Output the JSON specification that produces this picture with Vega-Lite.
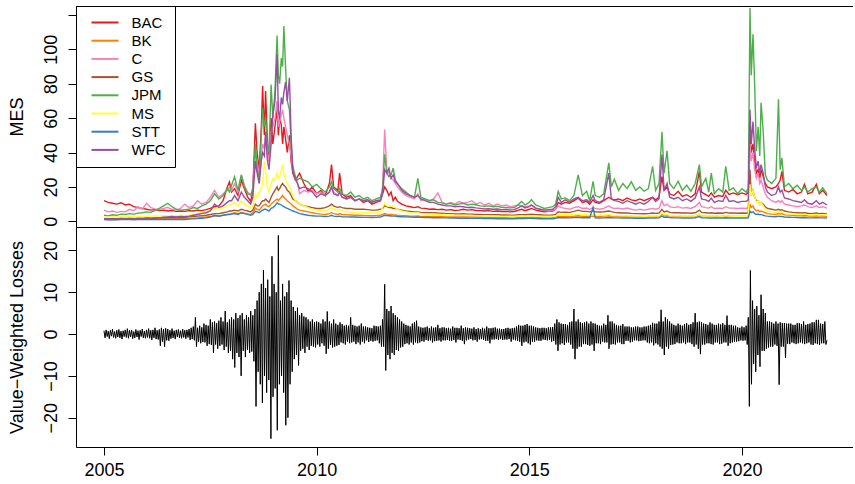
{
"$schema": "https://vega.github.io/schema/vega-lite/v6.json",
"background": "white",
"padding": {"left": 8, "top": 5, "right": 0, "bottom": 0},
"spacing": 0,
"config": {
  "font": "Liberation Sans",
  "view": {"stroke": null},
  "axis": {"grid": false, "domainColor": "black", "tickColor": "black", "labelColor": "black", "titleColor": "black", "labelFont": "Liberation Sans", "titleFont": "Liberation Sans", "labelFontSize": 18, "titleFontSize": 18, "titleFontWeight": "normal", "domainWidth": 1, "tickWidth": 1},
  "legend": {"labelFont": "Liberation Sans", "labelColor": "black"}
},
"datasets": {
"mes": [
{"t":2005.0,"BAC":12,"BK":1.2,"C":6.5,"GS":1.5,"JPM":3.5,"MS":2.5,"STT":1.0,"WFC":1.5},
{"t":2005.1,"BAC":11,"BK":1.1,"C":5.5,"GS":1.4,"JPM":3.2,"MS":2.4,"STT":0.9,"WFC":1.4},
{"t":2005.2,"BAC":10.5,"BK":1.2,"C":6,"GS":1.6,"JPM":3.8,"MS":2.6,"STT":1.0,"WFC":1.5},
{"t":2005.3,"BAC":10,"BK":1.1,"C":5.2,"GS":1.5,"JPM":3.5,"MS":2.5,"STT":0.9,"WFC":1.4},
{"t":2005.4,"BAC":10.8,"BK":1.3,"C":5.8,"GS":1.7,"JPM":4.2,"MS":2.7,"STT":1.1,"WFC":1.6},
{"t":2005.5,"BAC":9.5,"BK":1.2,"C":5.5,"GS":1.6,"JPM":4.0,"MS":2.5,"STT":1.0,"WFC":1.5},
{"t":2005.6,"BAC":10,"BK":1.3,"C":7,"GS":1.7,"JPM":4.5,"MS":2.8,"STT":1.0,"WFC":1.6},
{"t":2005.7,"BAC":8.5,"BK":1.2,"C":6.2,"GS":1.6,"JPM":4.2,"MS":2.6,"STT":0.9,"WFC":1.5},
{"t":2005.8,"BAC":8,"BK":1.4,"C":8.5,"GS":1.8,"JPM":4.8,"MS":2.9,"STT":1.1,"WFC":1.7},
{"t":2005.9,"BAC":7.5,"BK":1.3,"C":7,"GS":1.7,"JPM":5,"MS":2.8,"STT":1.0,"WFC":1.6},
{"t":2006.0,"BAC":7,"BK":1.4,"C":10.5,"GS":1.9,"JPM":5.5,"MS":3,"STT":1.1,"WFC":1.8},
{"t":2006.1,"BAC":6.5,"BK":1.3,"C":8,"GS":1.8,"JPM":5.2,"MS":2.9,"STT":1.0,"WFC":1.7},
{"t":2006.2,"BAC":6.8,"BK":1.5,"C":7.2,"GS":2.0,"JPM":6.2,"MS":3.1,"STT":1.1,"WFC":1.9},
{"t":2006.3,"BAC":6.2,"BK":1.4,"C":6.8,"GS":2.1,"JPM":7.5,"MS":3.0,"STT":1.0,"WFC":2.0},
{"t":2006.4,"BAC":6.5,"BK":1.6,"C":7.5,"GS":2.3,"JPM":9,"MS":3.3,"STT":1.2,"WFC":2.4},
{"t":2006.5,"BAC":6,"BK":1.5,"C":8,"GS":2.2,"JPM":10.5,"MS":3.2,"STT":1.1,"WFC":2.6},
{"t":2006.6,"BAC":6.3,"BK":1.6,"C":7,"GS":2.4,"JPM":8.5,"MS":3.4,"STT":1.2,"WFC":2.8},
{"t":2006.7,"BAC":5.8,"BK":1.5,"C":6.5,"GS":2.3,"JPM":7,"MS":3.3,"STT":1.1,"WFC":2.6},
{"t":2006.8,"BAC":6,"BK":1.6,"C":7.5,"GS":2.5,"JPM":6.5,"MS":3.5,"STT":1.2,"WFC":2.8},
{"t":2006.9,"BAC":5.8,"BK":1.5,"C":10,"GS":2.4,"JPM":6.8,"MS":3.4,"STT":1.1,"WFC":2.7},
{"t":2007.0,"BAC":6.2,"BK":1.7,"C":8,"GS":2.6,"JPM":7,"MS":3.6,"STT":1.3,"WFC":3.0},
{"t":2007.1,"BAC":6,"BK":1.8,"C":9,"GS":2.8,"JPM":8,"MS":4,"STT":1.4,"WFC":3.5},
{"t":2007.2,"BAC":6.5,"BK":2.0,"C":12,"GS":3.0,"JPM":7.5,"MS":4.5,"STT":1.6,"WFC":4.0},
{"t":2007.3,"BAC":6.2,"BK":2.2,"C":10,"GS":3.2,"JPM":9,"MS":5,"STT":1.8,"WFC":4.5},
{"t":2007.4,"BAC":6.8,"BK":2.5,"C":11,"GS":3.5,"JPM":10,"MS":5.5,"STT":2.0,"WFC":5},
{"t":2007.5,"BAC":7.5,"BK":2.8,"C":14,"GS":4,"JPM":12,"MS":6.5,"STT":2.5,"WFC":6},
{"t":2007.6,"BAC":8.5,"BK":3.0,"C":18,"GS":4.5,"JPM":16,"MS":7.5,"STT":3.5,"WFC":10},
{"t":2007.7,"BAC":9,"BK":3.2,"C":14,"GS":4.5,"JPM":13,"MS":7,"STT":3.0,"WFC":8},
{"t":2007.8,"BAC":12,"BK":3.5,"C":16,"GS":5,"JPM":15,"MS":8,"STT":3.5,"WFC":9},
{"t":2007.9,"BAC":20,"BK":4,"C":18,"GS":5.5,"JPM":19,"MS":9,"STT":4,"WFC":11},
{"t":2007.95,"BAC":23,"BK":4.2,"C":20,"GS":6,"JPM":17,"MS":9.5,"STT":4,"WFC":12},
{"t":2008.0,"BAC":17,"BK":4.5,"C":18,"GS":6,"JPM":21,"MS":10,"STT":4.2,"WFC":12},
{"t":2008.07,"BAC":19,"BK":5,"C":22,"GS":6.5,"JPM":26,"MS":11,"STT":4.5,"WFC":15},
{"t":2008.15,"BAC":15,"BK":4.5,"C":17,"GS":6,"JPM":18,"MS":9,"STT":4,"WFC":12},
{"t":2008.23,"BAC":24,"BK":5.2,"C":27,"GS":7,"JPM":27,"MS":12,"STT":5,"WFC":17},
{"t":2008.3,"BAC":19,"BK":4.8,"C":21,"GS":6.5,"JPM":20,"MS":10,"STT":4.5,"WFC":14},
{"t":2008.38,"BAC":14,"BK":4.3,"C":17,"GS":6,"JPM":16,"MS":9,"STT":4,"WFC":12},
{"t":2008.45,"BAC":11.6,"BK":4,"C":15,"GS":5.5,"JPM":15.5,"MS":8,"STT":3.5,"WFC":10},
{"t":2008.5,"BAC":18,"BK":5,"C":20,"GS":6.5,"JPM":18,"MS":9,"STT":4,"WFC":14},
{"t":2008.56,"BAC":57,"BK":7.7,"C":40,"GS":10,"JPM":45,"MS":16,"STT":5.8,"WFC":35},
{"t":2008.6,"BAC":40,"BK":7,"C":35,"GS":9,"JPM":30,"MS":14,"STT":5.5,"WFC":28},
{"t":2008.65,"BAC":30,"BK":6.5,"C":25,"GS":9,"JPM":25,"MS":17,"STT":5,"WFC":22},
{"t":2008.7,"BAC":55,"BK":8,"C":38,"GS":11,"JPM":50,"MS":19,"STT":6,"WFC":35},
{"t":2008.73,"BAC":78.6,"BK":9,"C":45,"GS":12,"JPM":66,"MS":22,"STT":6.5,"WFC":40},
{"t":2008.77,"BAC":50,"BK":9.5,"C":42,"GS":12,"JPM":55,"MS":35,"STT":7,"WFC":38},
{"t":2008.8,"BAC":75.7,"BK":10,"C":50,"GS":13,"JPM":60,"MS":30,"STT":7,"WFC":52},
{"t":2008.84,"BAC":48,"BK":9,"C":40,"GS":12,"JPM":45,"MS":20,"STT":6.5,"WFC":36},
{"t":2008.88,"BAC":35,"BK":8.5,"C":35,"GS":11,"JPM":40,"MS":17,"STT":6,"WFC":30},
{"t":2008.93,"BAC":60,"BK":10,"C":52,"GS":14,"JPM":79.6,"MS":22,"STT":7.5,"WFC":45},
{"t":2008.97,"BAC":45,"BK":11,"C":55,"GS":16,"JPM":60,"MS":25,"STT":8,"WFC":62},
{"t":2009.02,"BAC":55,"BK":12,"C":60,"GS":18,"JPM":75,"MS":24,"STT":9,"WFC":70},
{"t":2009.07,"BAC":65,"BK":13,"C":70,"GS":20,"JPM":108,"MS":28,"STT":10.7,"WFC":97},
{"t":2009.1,"BAC":50,"BK":12,"C":55,"GS":18,"JPM":85,"MS":25,"STT":10,"WFC":64},
{"t":2009.13,"BAC":60,"BK":13,"C":58,"GS":19,"JPM":80,"MS":26,"STT":10,"WFC":60},
{"t":2009.17,"BAC":56,"BK":14,"C":62,"GS":21,"JPM":95,"MS":30,"STT":9.5,"WFC":72},
{"t":2009.2,"BAC":45,"BK":15,"C":65,"GS":22,"JPM":90,"MS":33,"STT":9,"WFC":68},
{"t":2009.23,"BAC":55,"BK":14,"C":60,"GS":21,"JPM":113.6,"MS":28,"STT":8.5,"WFC":75},
{"t":2009.27,"BAC":48,"BK":13,"C":55,"GS":20,"JPM":89,"MS":24,"STT":8,"WFC":81},
{"t":2009.31,"BAC":40,"BK":12,"C":50,"GS":18,"JPM":70,"MS":22,"STT":7.5,"WFC":70},
{"t":2009.36,"BAC":50,"BK":11,"C":45,"GS":17,"JPM":65,"MS":20,"STT":7,"WFC":83.5},
{"t":2009.4,"BAC":35,"BK":10,"C":38,"GS":15,"JPM":45,"MS":18,"STT":6.5,"WFC":50},
{"t":2009.44,"BAC":28,"BK":9,"C":30,"GS":13,"JPM":32,"MS":15,"STT":6,"WFC":29},
{"t":2009.5,"BAC":24,"BK":8,"C":25,"GS":12,"JPM":26,"MS":12,"STT":5.5,"WFC":25},
{"t":2009.55,"BAC":26,"BK":7,"C":22,"GS":11,"JPM":24,"MS":11,"STT":5,"WFC":22},
{"t":2009.6,"BAC":28,"BK":6.5,"C":16,"GS":10,"JPM":25,"MS":10,"STT":4.5,"WFC":19},
{"t":2009.7,"BAC":22,"BK":6,"C":18,"GS":9,"JPM":24,"MS":9,"STT":4,"WFC":20},
{"t":2009.8,"BAC":17.5,"BK":5.5,"C":17,"GS":8.5,"JPM":23,"MS":8,"STT":3.5,"WFC":19},
{"t":2009.9,"BAC":20,"BK":5,"C":18,"GS":8,"JPM":20,"MS":7,"STT":3.2,"WFC":17},
{"t":2010.0,"BAC":16,"BK":4.5,"C":16,"GS":7.5,"JPM":21.5,"MS":6.5,"STT":3,"WFC":14},
{"t":2010.1,"BAC":18,"BK":4.2,"C":17,"GS":7.5,"JPM":19,"MS":6,"STT":3,"WFC":16},
{"t":2010.2,"BAC":15,"BK":4,"C":15,"GS":8,"JPM":17,"MS":6,"STT":2.8,"WFC":15},
{"t":2010.3,"BAC":22,"BK":4.5,"C":17,"GS":9,"JPM":20,"MS":7,"STT":3,"WFC":17},
{"t":2010.35,"BAC":33,"BK":5,"C":20,"GS":10,"JPM":23,"MS":8,"STT":3.5,"WFC":20},
{"t":2010.4,"BAC":20,"BK":4.5,"C":17,"GS":9,"JPM":19,"MS":7,"STT":3,"WFC":16},
{"t":2010.5,"BAC":18,"BK":4,"C":15,"GS":8,"JPM":17,"MS":6.5,"STT":2.8,"WFC":15},
{"t":2010.54,"BAC":28,"BK":4.5,"C":17,"GS":8.5,"JPM":19,"MS":7,"STT":3,"WFC":17},
{"t":2010.6,"BAC":16,"BK":4,"C":14,"GS":8,"JPM":16,"MS":6,"STT":2.7,"WFC":14},
{"t":2010.7,"BAC":14,"BK":3.8,"C":13,"GS":7.5,"JPM":15,"MS":5.5,"STT":2.6,"WFC":13},
{"t":2010.8,"BAC":15,"BK":3.7,"C":14,"GS":7.5,"JPM":17,"MS":5.5,"STT":2.5,"WFC":14},
{"t":2010.9,"BAC":12,"BK":3.5,"C":12,"GS":7,"JPM":14,"MS":5,"STT":2.5,"WFC":12},
{"t":2011.0,"BAC":13,"BK":3.5,"C":13,"GS":7,"JPM":15,"MS":5,"STT":2.4,"WFC":13},
{"t":2011.1,"BAC":11,"BK":3.4,"C":12,"GS":7,"JPM":13,"MS":5,"STT":2.3,"WFC":12},
{"t":2011.2,"BAC":12,"BK":3.3,"C":12.5,"GS":6.8,"JPM":14,"MS":5,"STT":2.3,"WFC":12.5},
{"t":2011.3,"BAC":10,"BK":3.2,"C":11,"GS":6.5,"JPM":12,"MS":4.8,"STT":2.2,"WFC":11},
{"t":2011.4,"BAC":11,"BK":3.3,"C":12,"GS":6.5,"JPM":13,"MS":5,"STT":2.3,"WFC":12},
{"t":2011.5,"BAC":12,"BK":3.5,"C":13,"GS":7,"JPM":14,"MS":5.5,"STT":2.5,"WFC":12},
{"t":2011.55,"BAC":16,"BK":4,"C":20,"GS":7.5,"JPM":18,"MS":8,"STT":3,"WFC":16},
{"t":2011.6,"BAC":20,"BK":4.5,"C":53.4,"GS":9,"JPM":39,"MS":10.7,"STT":3.5,"WFC":30},
{"t":2011.65,"BAC":18,"BK":4.2,"C":30,"GS":8.5,"JPM":28,"MS":9,"STT":3.3,"WFC":28},
{"t":2011.7,"BAC":15,"BK":4,"C":28,"GS":8,"JPM":26,"MS":8.7,"STT":3.2,"WFC":31},
{"t":2011.75,"BAC":17,"BK":4,"C":25,"GS":8,"JPM":27,"MS":9,"STT":3.1,"WFC":25},
{"t":2011.8,"BAC":12,"BK":3.8,"C":24,"GS":7.5,"JPM":31,"MS":8.5,"STT":3,"WFC":27},
{"t":2011.85,"BAC":14,"BK":3.7,"C":22,"GS":7.5,"JPM":24,"MS":8,"STT":3,"WFC":23},
{"t":2011.9,"BAC":11.6,"BK":3.5,"C":20,"GS":7,"JPM":22,"MS":7,"STT":2.8,"WFC":22},
{"t":2012.0,"BAC":10,"BK":3.3,"C":17,"GS":6.5,"JPM":19,"MS":6,"STT":2.7,"WFC":18},
{"t":2012.1,"BAC":9,"BK":3.2,"C":15,"GS":6,"JPM":17,"MS":5.5,"STT":2.6,"WFC":16},
{"t":2012.2,"BAC":8.5,"BK":3.0,"C":14,"GS":5.8,"JPM":15,"MS":5,"STT":2.5,"WFC":15},
{"t":2012.3,"BAC":8,"BK":3.0,"C":13,"GS":5.5,"JPM":14,"MS":4.8,"STT":2.4,"WFC":14},
{"t":2012.38,"BAC":8.5,"BK":3.1,"C":16,"GS":5.5,"JPM":25,"MS":5,"STT":2.5,"WFC":15},
{"t":2012.45,"BAC":7.7,"BK":2.9,"C":12,"GS":5.2,"JPM":14,"MS":4.5,"STT":2.3,"WFC":13},
{"t":2012.55,"BAC":7.5,"BK":2.9,"C":13,"GS":5,"JPM":13,"MS":4.3,"STT":2.2,"WFC":12},
{"t":2012.65,"BAC":7,"BK":2.8,"C":12,"GS":5,"JPM":12,"MS":4.2,"STT":2.2,"WFC":11},
{"t":2012.75,"BAC":7.2,"BK":2.8,"C":13,"GS":5,"JPM":12.5,"MS":4.2,"STT":2.1,"WFC":11},
{"t":2012.85,"BAC":6.8,"BK":2.7,"C":16.5,"GS":4.8,"JPM":11,"MS":4,"STT":2.1,"WFC":10},
{"t":2012.95,"BAC":7,"BK":2.7,"C":11,"GS":4.7,"JPM":10.7,"MS":4,"STT":2.0,"WFC":9.5},
{"t":2013.05,"BAC":6.5,"BK":2.6,"C":10,"GS":4.5,"JPM":10,"MS":3.8,"STT":2.0,"WFC":9},
{"t":2013.15,"BAC":6.8,"BK":2.6,"C":11,"GS":4.5,"JPM":10.5,"MS":3.8,"STT":1.9,"WFC":9},
{"t":2013.25,"BAC":6.3,"BK":2.5,"C":10,"GS":4.3,"JPM":9.5,"MS":3.6,"STT":1.9,"WFC":8.5},
{"t":2013.35,"BAC":6.5,"BK":2.5,"C":11.5,"GS":4.3,"JPM":10,"MS":3.5,"STT":1.8,"WFC":8.7},
{"t":2013.45,"BAC":7,"BK":2.6,"C":10.5,"GS":4.4,"JPM":10.5,"MS":3.6,"STT":1.8,"WFC":8.5},
{"t":2013.55,"BAC":6.5,"BK":2.5,"C":11,"GS":4.2,"JPM":9.5,"MS":3.4,"STT":1.8,"WFC":8},
{"t":2013.65,"BAC":6.8,"BK":2.5,"C":12,"GS":4.2,"JPM":10,"MS":3.4,"STT":1.7,"WFC":8.2},
{"t":2013.75,"BAC":6.3,"BK":2.4,"C":10,"GS":4,"JPM":9.5,"MS":3.3,"STT":1.7,"WFC":7.8},
{"t":2013.85,"BAC":6.2,"BK":2.4,"C":11,"GS":4,"JPM":9,"MS":3.2,"STT":1.7,"WFC":7.5},
{"t":2013.95,"BAC":6,"BK":2.3,"C":9.5,"GS":3.9,"JPM":8.8,"MS":3.1,"STT":1.6,"WFC":7.2},
{"t":2014.05,"BAC":6.2,"BK":2.3,"C":10.5,"GS":3.9,"JPM":9,"MS":3.1,"STT":1.6,"WFC":7.3},
{"t":2014.15,"BAC":5.8,"BK":2.2,"C":9,"GS":3.8,"JPM":8.5,"MS":3,"STT":1.6,"WFC":7},
{"t":2014.25,"BAC":6,"BK":2.2,"C":10,"GS":3.8,"JPM":8.7,"MS":3,"STT":1.5,"WFC":7.2},
{"t":2014.35,"BAC":5.7,"BK":2.1,"C":9,"GS":3.7,"JPM":8.2,"MS":2.9,"STT":1.5,"WFC":6.8},
{"t":2014.45,"BAC":5.8,"BK":2.1,"C":9.5,"GS":3.7,"JPM":8,"MS":2.9,"STT":1.5,"WFC":6.9},
{"t":2014.55,"BAC":5.5,"BK":2.0,"C":8.5,"GS":3.6,"JPM":7.8,"MS":2.8,"STT":1.5,"WFC":6.6},
{"t":2014.65,"BAC":5.7,"BK":2.0,"C":9,"GS":3.6,"JPM":8,"MS":2.8,"STT":1.5,"WFC":6.8},
{"t":2014.75,"BAC":6.5,"BK":2.2,"C":9.5,"GS":3.8,"JPM":10,"MS":3,"STT":1.6,"WFC":8},
{"t":2014.82,"BAC":7,"BK":2.3,"C":9,"GS":3.9,"JPM":11.6,"MS":3.1,"STT":1.7,"WFC":9},
{"t":2014.9,"BAC":6.2,"BK":2.2,"C":8.5,"GS":3.8,"JPM":9.5,"MS":3,"STT":1.6,"WFC":7.8},
{"t":2015.0,"BAC":7,"BK":2.3,"C":9,"GS":4,"JPM":11,"MS":3.1,"STT":1.7,"WFC":8.5},
{"t":2015.05,"BAC":7.5,"BK":2.4,"C":9.5,"GS":4.1,"JPM":12.6,"MS":3.2,"STT":1.8,"WFC":9.5},
{"t":2015.15,"BAC":6.5,"BK":2.2,"C":8,"GS":3.9,"JPM":9.5,"MS":3,"STT":1.6,"WFC":7.5},
{"t":2015.25,"BAC":6,"BK":2.1,"C":7,"GS":3.8,"JPM":8.5,"MS":2.9,"STT":1.5,"WFC":7},
{"t":2015.35,"BAC":5.5,"BK":2.0,"C":6.5,"GS":3.6,"JPM":7.5,"MS":2.8,"STT":1.5,"WFC":6.5},
{"t":2015.45,"BAC":5.8,"BK":2.0,"C":6,"GS":3.6,"JPM":8,"MS":2.8,"STT":1.5,"WFC":6.8},
{"t":2015.55,"BAC":6,"BK":2.1,"C":6.5,"GS":3.7,"JPM":8.5,"MS":2.9,"STT":1.5,"WFC":7},
{"t":2015.62,"BAC":7,"BK":2.3,"C":7,"GS":4,"JPM":10,"MS":3.1,"STT":1.7,"WFC":8.5},
{"t":2015.68,"BAC":11,"BK":3,"C":9,"GS":5.5,"JPM":17.5,"MS":4,"STT":2.2,"WFC":14},
{"t":2015.75,"BAC":10,"BK":2.8,"C":8,"GS":5.2,"JPM":13,"MS":3.8,"STT":2.1,"WFC":11},
{"t":2015.85,"BAC":11,"BK":2.9,"C":7.5,"GS":5.3,"JPM":13.6,"MS":3.9,"STT":2.1,"WFC":12.5},
{"t":2015.95,"BAC":10.5,"BK":2.8,"C":7,"GS":5.2,"JPM":12,"MS":3.7,"STT":2.0,"WFC":11},
{"t":2016.05,"BAC":12,"BK":3.0,"C":8,"GS":5.8,"JPM":15,"MS":4,"STT":2.2,"WFC":13},
{"t":2016.15,"BAC":13.5,"BK":3.2,"C":8.5,"GS":6.5,"JPM":27,"MS":4.2,"STT":2.3,"WFC":14},
{"t":2016.25,"BAC":11,"BK":2.9,"C":7.5,"GS":5.8,"JPM":15,"MS":3.8,"STT":2.1,"WFC":12},
{"t":2016.35,"BAC":11.6,"BK":3.0,"C":7.7,"GS":5.8,"JPM":17.5,"MS":3.9,"STT":2.2,"WFC":12.5},
{"t":2016.42,"BAC":10,"BK":2.8,"C":7,"GS":5.5,"JPM":12,"MS":3.6,"STT":2.0,"WFC":11},
{"t":2016.5,"BAC":12.5,"BK":3.1,"C":8,"GS":6,"JPM":23.3,"MS":4,"STT":8,"WFC":15},
{"t":2016.55,"BAC":11,"BK":2.9,"C":7.5,"GS":5.6,"JPM":15,"MS":3.7,"STT":2.0,"WFC":12},
{"t":2016.65,"BAC":10.5,"BK":2.8,"C":7,"GS":5.4,"JPM":14,"MS":3.5,"STT":1.9,"WFC":11},
{"t":2016.75,"BAC":12,"BK":3.0,"C":7.5,"GS":5.6,"JPM":16,"MS":3.6,"STT":2.0,"WFC":12.5},
{"t":2016.87,"BAC":14,"BK":3.2,"C":9,"GS":6,"JPM":34,"MS":4,"STT":2.2,"WFC":28},
{"t":2016.93,"BAC":13,"BK":3.0,"C":8,"GS":5.6,"JPM":20,"MS":3.6,"STT":2.1,"WFC":13},
{"t":2017.0,"BAC":12.5,"BK":2.9,"C":7.5,"GS":5.2,"JPM":24.5,"MS":3.4,"STT":2.0,"WFC":12},
{"t":2017.1,"BAC":13,"BK":2.9,"C":7.7,"GS":5,"JPM":18,"MS":3.3,"STT":2.0,"WFC":11.6},
{"t":2017.2,"BAC":12,"BK":2.8,"C":7.2,"GS":4.8,"JPM":22,"MS":3.2,"STT":1.9,"WFC":10.5},
{"t":2017.3,"BAC":13.6,"BK":2.9,"C":7.7,"GS":4.8,"JPM":19,"MS":3.2,"STT":1.9,"WFC":12},
{"t":2017.4,"BAC":12.5,"BK":2.8,"C":7,"GS":4.6,"JPM":23,"MS":3.1,"STT":1.9,"WFC":11},
{"t":2017.5,"BAC":12,"BK":2.7,"C":6.5,"GS":4.5,"JPM":18,"MS":3,"STT":1.8,"WFC":10},
{"t":2017.6,"BAC":13,"BK":2.8,"C":7,"GS":4.5,"JPM":20,"MS":3,"STT":1.8,"WFC":11},
{"t":2017.7,"BAC":12,"BK":2.7,"C":6.5,"GS":4.4,"JPM":17.5,"MS":2.9,"STT":1.8,"WFC":10},
{"t":2017.8,"BAC":13,"BK":2.8,"C":7,"GS":4.5,"JPM":19,"MS":3,"STT":1.9,"WFC":11.5},
{"t":2017.9,"BAC":14,"BK":3.0,"C":7.5,"GS":4.8,"JPM":32,"MS":3.2,"STT":2.0,"WFC":14},
{"t":2017.97,"BAC":12.5,"BK":2.8,"C":7,"GS":4.6,"JPM":18,"MS":3,"STT":1.9,"WFC":11.5},
{"t":2018.05,"BAC":14,"BK":3.0,"C":7.5,"GS":4.8,"JPM":22,"MS":3.2,"STT":2.0,"WFC":13},
{"t":2018.12,"BAC":26,"BK":4,"C":12,"GS":7,"JPM":52,"MS":5,"STT":3,"WFC":38.8},
{"t":2018.17,"BAC":18,"BK":3.4,"C":9,"GS":5.5,"JPM":28,"MS":3.8,"STT":2.4,"WFC":18},
{"t":2018.24,"BAC":20,"BK":3.5,"C":10,"GS":6,"JPM":41,"MS":4,"STT":2.5,"WFC":22},
{"t":2018.3,"BAC":16,"BK":3.2,"C":8.5,"GS":5.2,"JPM":22,"MS":3.5,"STT":2.2,"WFC":14},
{"t":2018.4,"BAC":15,"BK":3.0,"C":8,"GS":5,"JPM":19,"MS":3.3,"STT":2.0,"WFC":13},
{"t":2018.5,"BAC":17.5,"BK":3.1,"C":8.5,"GS":5,"JPM":23.3,"MS":3.3,"STT":2.0,"WFC":14},
{"t":2018.6,"BAC":14.5,"BK":2.9,"C":7.7,"GS":4.8,"JPM":18,"MS":3.1,"STT":1.9,"WFC":12},
{"t":2018.7,"BAC":15.5,"BK":3.0,"C":8,"GS":4.9,"JPM":21,"MS":3.2,"STT":2.0,"WFC":13},
{"t":2018.8,"BAC":14,"BK":2.9,"C":7.5,"GS":4.7,"JPM":17.5,"MS":3.0,"STT":1.9,"WFC":11.6},
{"t":2018.9,"BAC":16,"BK":3.1,"C":8.5,"GS":5,"JPM":22,"MS":3.2,"STT":2.1,"WFC":13.5},
{"t":2019.0,"BAC":29,"BK":4,"C":11,"GS":6.5,"JPM":33,"MS":4.5,"STT":2.8,"WFC":20},
{"t":2019.05,"BAC":17,"BK":3.2,"C":8.5,"GS":5.2,"JPM":20,"MS":3.3,"STT":2.1,"WFC":13},
{"t":2019.15,"BAC":15.5,"BK":3.0,"C":8,"GS":5,"JPM":25,"MS":3.1,"STT":2.0,"WFC":12.5},
{"t":2019.22,"BAC":14.5,"BK":2.9,"C":7.7,"GS":4.8,"JPM":17,"MS":3.0,"STT":1.9,"WFC":11.6},
{"t":2019.28,"BAC":16.5,"BK":3.1,"C":8.5,"GS":5,"JPM":28,"MS":3.2,"STT":2.0,"WFC":13.5},
{"t":2019.35,"BAC":14,"BK":2.8,"C":7.5,"GS":4.7,"JPM":16,"MS":3.0,"STT":1.9,"WFC":11},
{"t":2019.45,"BAC":15,"BK":2.9,"C":7.7,"GS":4.8,"JPM":19,"MS":3.0,"STT":1.9,"WFC":12},
{"t":2019.55,"BAC":14.5,"BK":2.8,"C":7.5,"GS":4.7,"JPM":17,"MS":2.9,"STT":1.9,"WFC":11.5},
{"t":2019.62,"BAC":18,"BK":3.2,"C":8.5,"GS":5.2,"JPM":32,"MS":3.3,"STT":2.1,"WFC":15},
{"t":2019.7,"BAC":15.6,"BK":2.9,"C":7.7,"GS":4.8,"JPM":18,"MS":3.0,"STT":1.9,"WFC":11.6},
{"t":2019.8,"BAC":16.5,"BK":2.9,"C":7.7,"GS":4.8,"JPM":19.4,"MS":2.9,"STT":1.9,"WFC":12},
{"t":2019.9,"BAC":15.5,"BK":2.8,"C":7.5,"GS":4.7,"JPM":16,"MS":2.9,"STT":1.9,"WFC":11},
{"t":2020.0,"BAC":16.5,"BK":2.9,"C":7.7,"GS":4.8,"JPM":19,"MS":2.9,"STT":1.9,"WFC":11.6},
{"t":2020.1,"BAC":15.6,"BK":2.8,"C":7.5,"GS":4.7,"JPM":17,"MS":2.9,"STT":1.9,"WFC":11.6},
{"t":2020.15,"BAC":17,"BK":3,"C":8,"GS":5,"JPM":19.4,"MS":3.1,"STT":2.0,"WFC":12.5},
{"t":2020.19,"BAC":51,"BK":10,"C":45,"GS":30,"JPM":124,"MS":21.5,"STT":6,"WFC":65},
{"t":2020.22,"BAC":40,"BK":8,"C":35,"GS":15,"JPM":85,"MS":15,"STT":5,"WFC":45},
{"t":2020.26,"BAC":45,"BK":9,"C":40,"GS":18,"JPM":108.7,"MS":18,"STT":5.5,"WFC":58},
{"t":2020.3,"BAC":35,"BK":7,"C":30,"GS":14,"JPM":79.6,"MS":14,"STT":4.5,"WFC":42},
{"t":2020.34,"BAC":28,"BK":6,"C":25,"GS":12,"JPM":40.8,"MS":11,"STT":4,"WFC":31},
{"t":2020.38,"BAC":30,"BK":6.5,"C":28,"GS":12,"JPM":55,"MS":12,"STT":4.2,"WFC":35},
{"t":2020.42,"BAC":25,"BK":5.5,"C":22,"GS":10,"JPM":38,"MS":10,"STT":3.8,"WFC":28},
{"t":2020.45,"BAC":30,"BK":6,"C":24,"GS":11,"JPM":69,"MS":11,"STT":4,"WFC":33},
{"t":2020.5,"BAC":26,"BK":5.5,"C":20,"GS":10,"JPM":52.4,"MS":9,"STT":3.5,"WFC":28},
{"t":2020.55,"BAC":22,"BK":5,"C":16,"GS":8.5,"JPM":27,"MS":7,"STT":3.2,"WFC":20},
{"t":2020.6,"BAC":20,"BK":4.5,"C":14,"GS":7.5,"JPM":24,"MS":6,"STT":3,"WFC":17},
{"t":2020.7,"BAC":19,"BK":4.2,"C":12,"GS":7,"JPM":22,"MS":5.5,"STT":2.8,"WFC":15},
{"t":2020.8,"BAC":20,"BK":4,"C":11,"GS":6.5,"JPM":25,"MS":5,"STT":2.7,"WFC":16},
{"t":2020.86,"BAC":22,"BK":4.5,"C":12,"GS":7,"JPM":70.9,"MS":6,"STT":3,"WFC":20},
{"t":2020.9,"BAC":24,"BK":4.2,"C":11,"GS":6.5,"JPM":30,"MS":5.2,"STT":2.8,"WFC":17},
{"t":2020.94,"BAC":29,"BK":4.5,"C":12,"GS":6.8,"JPM":36.9,"MS":5.5,"STT":2.9,"WFC":18},
{"t":2021.0,"BAC":18,"BK":3.8,"C":10,"GS":6,"JPM":20,"MS":4.5,"STT":2.5,"WFC":13.6},
{"t":2021.1,"BAC":17,"BK":3.6,"C":9.5,"GS":5.5,"JPM":22,"MS":4.3,"STT":2.4,"WFC":13},
{"t":2021.2,"BAC":18.5,"BK":3.5,"C":9,"GS":5.2,"JPM":19,"MS":4.2,"STT":2.3,"WFC":12},
{"t":2021.3,"BAC":16,"BK":3.3,"C":8.5,"GS":5,"JPM":21,"MS":4,"STT":2.2,"WFC":11.5},
{"t":2021.4,"BAC":17,"BK":3.2,"C":9,"GS":4.8,"JPM":18,"MS":4,"STT":2.1,"WFC":11},
{"t":2021.47,"BAC":21.5,"BK":3.4,"C":9.5,"GS":5,"JPM":20,"MS":4.2,"STT":2.2,"WFC":12.5},
{"t":2021.55,"BAC":16,"BK":3.1,"C":8.5,"GS":4.7,"JPM":17,"MS":3.9,"STT":2.0,"WFC":10.5},
{"t":2021.65,"BAC":17,"BK":3.0,"C":8,"GS":4.5,"JPM":19,"MS":3.8,"STT":2.0,"WFC":10},
{"t":2021.75,"BAC":21.5,"BK":3.2,"C":9,"GS":4.8,"JPM":20,"MS":4,"STT":2.1,"WFC":12},
{"t":2021.82,"BAC":16,"BK":3.0,"C":8,"GS":4.5,"JPM":17,"MS":3.8,"STT":2.0,"WFC":10},
{"t":2021.9,"BAC":18,"BK":3.1,"C":8.5,"GS":4.6,"JPM":19.5,"MS":3.9,"STT":2.0,"WFC":11},
{"t":2022.0,"BAC":15,"BK":2.9,"C":7.7,"GS":4.3,"JPM":16,"MS":3.7,"STT":1.9,"WFC":9.5}
],
"loss": [
{"t":2005.000,"v":0.8},{"t":2005.025,"v":-0.9},{"t":2005.050,"v":1.0},{"t":2005.075,"v":-0.6},{"t":2005.100,"v":0.7},{"t":2005.125,"v":-1.1},{"t":2005.150,"v":0.9},{"t":2005.175,"v":-0.5},{"t":2005.200,"v":1.2},{"t":2005.225,"v":-0.8},
{"t":2005.250,"v":0.6},{"t":2005.275,"v":-1.0},{"t":2005.300,"v":0.9},{"t":2005.325,"v":-0.7},{"t":2005.350,"v":1.1},{"t":2005.375,"v":-0.9},{"t":2005.400,"v":0.7},{"t":2005.425,"v":-1.2},{"t":2005.450,"v":0.8},{"t":2005.475,"v":-0.6},
{"t":2005.500,"v":1.0},{"t":2005.525,"v":-0.8},{"t":2005.550,"v":1.3},{"t":2005.575,"v":-1.0},{"t":2005.600,"v":0.9},{"t":2005.625,"v":-0.7},{"t":2005.650,"v":1.0},{"t":2005.675,"v":-1.1},{"t":2005.700,"v":0.6},{"t":2005.725,"v":-0.9},
{"t":2005.750,"v":1.1},{"t":2005.775,"v":-0.7},{"t":2005.800,"v":0.8},{"t":2005.825,"v":-1.3},{"t":2005.850,"v":0.9},{"t":2005.875,"v":-0.6},{"t":2005.900,"v":1.2},{"t":2005.925,"v":-0.9},{"t":2005.950,"v":0.7},{"t":2005.975,"v":-1.0},
{"t":2006.000,"v":1.0},{"t":2006.025,"v":-0.8},{"t":2006.050,"v":1.3},{"t":2006.075,"v":-1.0},{"t":2006.100,"v":0.9},{"t":2006.125,"v":-1.4},{"t":2006.150,"v":1.0},{"t":2006.175,"v":-0.9},{"t":2006.200,"v":1.5},{"t":2006.225,"v":-1.2},
{"t":2006.250,"v":0.9},{"t":2006.275,"v":-1.3},{"t":2006.300,"v":1.1},{"t":2006.325,"v":-2.8},{"t":2006.350,"v":1.5},{"t":2006.375,"v":-1.8},{"t":2006.400,"v":1.2},{"t":2006.425,"v":-3.0},{"t":2006.450,"v":1.4},{"t":2006.475,"v":-1.5},
{"t":2006.500,"v":1.2},{"t":2006.525,"v":-1.6},{"t":2006.550,"v":0.9},{"t":2006.575,"v":-1.1},{"t":2006.600,"v":1.3},{"t":2006.625,"v":-0.9},{"t":2006.650,"v":0.8},{"t":2006.675,"v":-1.2},{"t":2006.700,"v":1.0},{"t":2006.725,"v":-0.7},
{"t":2006.750,"v":1.1},{"t":2006.775,"v":-0.9},{"t":2006.800,"v":0.8},{"t":2006.825,"v":-1.0},{"t":2006.850,"v":1.2},{"t":2006.875,"v":-0.8},{"t":2006.900,"v":0.9},{"t":2006.925,"v":-1.1},{"t":2006.950,"v":1.0},{"t":2006.975,"v":-0.8},
{"t":2007.000,"v":1.2},{"t":2007.025,"v":-1.4},{"t":2007.050,"v":1.5},{"t":2007.075,"v":-1.2},{"t":2007.100,"v":1.8},{"t":2007.125,"v":-1.5},{"t":2007.150,"v":4.0},{"t":2007.175,"v":-3.0},{"t":2007.200,"v":1.5},{"t":2007.225,"v":-1.8},
{"t":2007.250,"v":2.0},{"t":2007.275,"v":-2.2},{"t":2007.300,"v":1.6},{"t":2007.325,"v":-1.9},{"t":2007.350,"v":2.5},{"t":2007.375,"v":-2.0},{"t":2007.400,"v":2.2},{"t":2007.425,"v":-2.8},{"t":2007.450,"v":2.0},{"t":2007.475,"v":-2.4},
{"t":2007.500,"v":3.5},{"t":2007.525,"v":-2.6},{"t":2007.550,"v":2.8},{"t":2007.575,"v":-4.5},{"t":2007.600,"v":3.0},{"t":2007.625,"v":-2.5},{"t":2007.650,"v":2.6},{"t":2007.675,"v":-3.5},{"t":2007.700,"v":3.2},{"t":2007.725,"v":-2.8},
{"t":2007.750,"v":4.0},{"t":2007.775,"v":-2.5},{"t":2007.800,"v":3.0},{"t":2007.825,"v":-3.8},{"t":2007.850,"v":5.5},{"t":2007.875,"v":-3.0},{"t":2007.900,"v":2.8},{"t":2007.925,"v":-4.5},{"t":2007.950,"v":3.5},{"t":2007.975,"v":-4.0},
{"t":2008.000,"v":4.0},{"t":2008.025,"v":-6.0},{"t":2008.050,"v":3.5},{"t":2008.075,"v":-8.0},{"t":2008.100,"v":5.0},{"t":2008.125,"v":-4.5},{"t":2008.150,"v":3.8},{"t":2008.175,"v":-5.5},{"t":2008.200,"v":4.5},{"t":2008.225,"v":-10.0},
{"t":2008.250,"v":5.0},{"t":2008.275,"v":-4.0},{"t":2008.300,"v":3.5},{"t":2008.325,"v":-5.5},{"t":2008.350,"v":4.5},{"t":2008.375,"v":-3.8},{"t":2008.400,"v":4.0},{"t":2008.425,"v":-4.5},{"t":2008.450,"v":5.5},{"t":2008.475,"v":-4.2},
{"t":2008.500,"v":4.5},{"t":2008.525,"v":-6.5},{"t":2008.550,"v":6.0},{"t":2008.575,"v":-17.3},{"t":2008.600,"v":8.0},{"t":2008.625,"v":-9.0},{"t":2008.650,"v":10.0},{"t":2008.675,"v":-12.0},{"t":2008.700,"v":12.0},{"t":2008.725,"v":-16.5},
{"t":2008.750,"v":15.3},{"t":2008.775,"v":-10.0},{"t":2008.800,"v":11.0},{"t":2008.825,"v":-14.0},{"t":2008.850,"v":13.0},{"t":2008.875,"v":-11.0},{"t":2008.900,"v":9.0},{"t":2008.925,"v":-25.0},{"t":2008.950,"v":18.6},{"t":2008.975,"v":-15.0},
{"t":2009.000,"v":12.0},{"t":2009.025,"v":-13.0},{"t":2009.050,"v":10.0},{"t":2009.075,"v":-23.0},{"t":2009.100,"v":23.6},{"t":2009.125,"v":-12.0},{"t":2009.150,"v":8.0},{"t":2009.175,"v":-10.0},{"t":2009.200,"v":12.0},{"t":2009.225,"v":-14.0},
{"t":2009.250,"v":9.0},{"t":2009.275,"v":-21.8},{"t":2009.300,"v":10.0},{"t":2009.325,"v":-20.0},{"t":2009.350,"v":12.8},{"t":2009.375,"v":-12.0},{"t":2009.400,"v":8.0},{"t":2009.425,"v":-9.0},{"t":2009.450,"v":6.5},{"t":2009.475,"v":-6.0},
{"t":2009.500,"v":5.5},{"t":2009.525,"v":-5.0},{"t":2009.550,"v":6.3},{"t":2009.575,"v":-7.5},{"t":2009.600,"v":4.5},{"t":2009.625,"v":-4.0},{"t":2009.650,"v":5.0},{"t":2009.675,"v":-3.5},{"t":2009.700,"v":4.2},{"t":2009.725,"v":-4.5},
{"t":2009.750,"v":4.0},{"t":2009.775,"v":-3.0},{"t":2009.800,"v":3.5},{"t":2009.825,"v":-3.8},{"t":2009.850,"v":3.0},{"t":2009.875,"v":-2.8},{"t":2009.900,"v":3.5},{"t":2009.925,"v":-3.0},{"t":2009.950,"v":2.8},{"t":2009.975,"v":-3.2},
{"t":2010.000,"v":3.0},{"t":2010.025,"v":-2.5},{"t":2010.050,"v":2.8},{"t":2010.075,"v":-3.0},{"t":2010.100,"v":2.5},{"t":2010.125,"v":-2.2},{"t":2010.150,"v":3.5},{"t":2010.175,"v":-2.8},{"t":2010.200,"v":3.0},{"t":2010.225,"v":-4.7},
{"t":2010.250,"v":5.4},{"t":2010.275,"v":-3.5},{"t":2010.300,"v":3.0},{"t":2010.325,"v":-2.6},{"t":2010.350,"v":2.5},{"t":2010.375,"v":-3.2},{"t":2010.400,"v":3.5},{"t":2010.425,"v":-3.0},{"t":2010.450,"v":2.5},{"t":2010.475,"v":-2.8},
{"t":2010.500,"v":2.2},{"t":2010.525,"v":-2.6},{"t":2010.550,"v":2.8},{"t":2010.575,"v":-2.0},{"t":2010.600,"v":2.4},{"t":2010.625,"v":-2.2},{"t":2010.650,"v":2.0},{"t":2010.675,"v":-2.5},{"t":2010.700,"v":2.2},{"t":2010.725,"v":-1.8},
{"t":2010.750,"v":2.0},{"t":2010.775,"v":-2.2},{"t":2010.800,"v":4.0},{"t":2010.825,"v":-2.0},{"t":2010.850,"v":2.2},{"t":2010.875,"v":-1.8},{"t":2010.900,"v":2.0},{"t":2010.925,"v":-2.4},{"t":2010.950,"v":1.8},{"t":2010.975,"v":-2.0},
{"t":2011.000,"v":2.0},{"t":2011.025,"v":-2.5},{"t":2011.050,"v":2.5},{"t":2011.075,"v":-1.8},{"t":2011.100,"v":1.8},{"t":2011.125,"v":-2.2},{"t":2011.150,"v":1.8},{"t":2011.175,"v":-1.5},{"t":2011.200,"v":1.6},{"t":2011.225,"v":-1.9},
{"t":2011.250,"v":1.5},{"t":2011.275,"v":-1.6},{"t":2011.300,"v":1.4},{"t":2011.325,"v":-1.8},{"t":2011.350,"v":2.0},{"t":2011.375,"v":-1.6},{"t":2011.400,"v":1.9},{"t":2011.425,"v":-1.5},{"t":2011.450,"v":1.8},{"t":2011.475,"v":-2.2},
{"t":2011.500,"v":2.0},{"t":2011.525,"v":-3.0},{"t":2011.550,"v":3.5},{"t":2011.575,"v":-3.0},{"t":2011.600,"v":11.9},{"t":2011.625,"v":-8.7},{"t":2011.650,"v":6.0},{"t":2011.675,"v":-5.0},{"t":2011.700,"v":5.5},{"t":2011.725,"v":-6.0},
{"t":2011.750,"v":6.7},{"t":2011.775,"v":-4.5},{"t":2011.800,"v":5.0},{"t":2011.825,"v":-5.0},{"t":2011.850,"v":4.5},{"t":2011.875,"v":-3.8},{"t":2011.900,"v":4.0},{"t":2011.925,"v":-4.0},{"t":2011.950,"v":3.5},{"t":2011.975,"v":-3.2},
{"t":2012.000,"v":3.0},{"t":2012.025,"v":-3.0},{"t":2012.050,"v":2.5},{"t":2012.075,"v":-2.4},{"t":2012.100,"v":2.2},{"t":2012.125,"v":-2.2},{"t":2012.150,"v":2.0},{"t":2012.175,"v":-2.5},{"t":2012.200,"v":1.8},{"t":2012.225,"v":-2.0},
{"t":2012.250,"v":2.5},{"t":2012.275,"v":-2.5},{"t":2012.300,"v":2.8},{"t":2012.325,"v":-2.0},{"t":2012.350,"v":3.2},{"t":2012.375,"v":-2.2},{"t":2012.400,"v":1.8},{"t":2012.425,"v":-2.0},{"t":2012.450,"v":1.6},{"t":2012.475,"v":-1.7},
{"t":2012.500,"v":1.5},{"t":2012.525,"v":-1.8},{"t":2012.550,"v":1.6},{"t":2012.575,"v":-1.4},{"t":2012.600,"v":1.8},{"t":2012.625,"v":-1.6},{"t":2012.650,"v":1.4},{"t":2012.675,"v":-1.5},{"t":2012.700,"v":1.8},{"t":2012.725,"v":-2.0},
{"t":2012.750,"v":1.5},{"t":2012.775,"v":-1.7},{"t":2012.800,"v":1.6},{"t":2012.825,"v":-1.6},{"t":2012.850,"v":2.2},{"t":2012.875,"v":-1.5},{"t":2012.900,"v":1.4},{"t":2012.925,"v":-1.8},{"t":2012.950,"v":1.6},{"t":2012.975,"v":-1.5},
{"t":2013.000,"v":1.6},{"t":2013.025,"v":-1.5},{"t":2013.050,"v":1.4},{"t":2013.075,"v":-1.4},{"t":2013.100,"v":1.5},{"t":2013.125,"v":-1.6},{"t":2013.150,"v":1.3},{"t":2013.175,"v":-1.6},{"t":2013.200,"v":1.8},{"t":2013.225,"v":-1.4},
{"t":2013.250,"v":1.5},{"t":2013.275,"v":-2.0},{"t":2013.300,"v":1.5},{"t":2013.325,"v":-1.3},{"t":2013.350,"v":1.4},{"t":2013.375,"v":-1.4},{"t":2013.400,"v":2.0},{"t":2013.425,"v":-1.6},{"t":2013.450,"v":1.4},{"t":2013.475,"v":-2.4},
{"t":2013.500,"v":1.6},{"t":2013.525,"v":-1.5},{"t":2013.550,"v":1.5},{"t":2013.575,"v":-1.3},{"t":2013.600,"v":1.4},{"t":2013.625,"v":-1.2},{"t":2013.650,"v":1.3},{"t":2013.675,"v":-1.5},{"t":2013.700,"v":1.6},{"t":2013.725,"v":-1.4},
{"t":2013.750,"v":1.2},{"t":2013.775,"v":-1.8},{"t":2013.800,"v":1.4},{"t":2013.825,"v":-1.3},{"t":2013.850,"v":1.2},{"t":2013.875,"v":-1.2},{"t":2013.900,"v":1.5},{"t":2013.925,"v":-1.4},{"t":2013.950,"v":1.3},{"t":2013.975,"v":-1.6},
{"t":2014.000,"v":1.8},{"t":2014.025,"v":-1.6},{"t":2014.050,"v":1.4},{"t":2014.075,"v":-2.2},{"t":2014.100,"v":1.4},{"t":2014.125,"v":-1.3},{"t":2014.150,"v":1.5},{"t":2014.175,"v":-1.3},{"t":2014.200,"v":1.6},{"t":2014.225,"v":-1.2},
{"t":2014.250,"v":1.3},{"t":2014.275,"v":-1.4},{"t":2014.300,"v":1.3},{"t":2014.325,"v":-1.2},{"t":2014.350,"v":1.2},{"t":2014.375,"v":-1.4},{"t":2014.400,"v":1.2},{"t":2014.425,"v":-1.3},{"t":2014.450,"v":1.4},{"t":2014.475,"v":-1.3},
{"t":2014.500,"v":1.5},{"t":2014.525,"v":-1.2},{"t":2014.550,"v":1.3},{"t":2014.575,"v":-1.8},{"t":2014.600,"v":1.4},{"t":2014.625,"v":-1.3},{"t":2014.650,"v":1.5},{"t":2014.675,"v":-1.5},{"t":2014.700,"v":1.8},{"t":2014.725,"v":-1.6},
{"t":2014.750,"v":2.2},{"t":2014.775,"v":-1.8},{"t":2014.800,"v":2.0},{"t":2014.825,"v":-2.8},{"t":2014.850,"v":2.0},{"t":2014.875,"v":-2.0},{"t":2014.900,"v":2.2},{"t":2014.925,"v":-1.8},{"t":2014.950,"v":2.4},{"t":2014.975,"v":-2.2},
{"t":2015.000,"v":2.0},{"t":2015.025,"v":-2.5},{"t":2015.050,"v":2.0},{"t":2015.075,"v":-1.8},{"t":2015.100,"v":1.8},{"t":2015.125,"v":-1.8},{"t":2015.150,"v":1.6},{"t":2015.175,"v":-1.5},{"t":2015.200,"v":1.5},{"t":2015.225,"v":-1.6},
{"t":2015.250,"v":1.4},{"t":2015.275,"v":-1.6},{"t":2015.300,"v":1.5},{"t":2015.325,"v":-1.3},{"t":2015.350,"v":1.5},{"t":2015.375,"v":-1.4},{"t":2015.400,"v":1.4},{"t":2015.425,"v":-1.5},{"t":2015.450,"v":1.6},{"t":2015.475,"v":-1.4},
{"t":2015.500,"v":1.6},{"t":2015.525,"v":-1.8},{"t":2015.550,"v":1.7},{"t":2015.575,"v":-1.6},{"t":2015.600,"v":2.5},{"t":2015.625,"v":-2.5},{"t":2015.650,"v":3.5},{"t":2015.675,"v":-4.0},{"t":2015.700,"v":2.8},{"t":2015.725,"v":-2.5},
{"t":2015.750,"v":2.5},{"t":2015.775,"v":-2.2},{"t":2015.800,"v":2.4},{"t":2015.825,"v":-2.6},{"t":2015.850,"v":2.4},{"t":2015.875,"v":-2.0},{"t":2015.900,"v":2.2},{"t":2015.925,"v":-2.0},{"t":2015.950,"v":2.8},{"t":2015.975,"v":-2.5},
{"t":2016.000,"v":3.0},{"t":2016.025,"v":-3.5},{"t":2016.050,"v":6.0},{"t":2016.075,"v":-6.0},{"t":2016.100,"v":3.0},{"t":2016.125,"v":-3.5},{"t":2016.150,"v":3.5},{"t":2016.175,"v":-3.0},{"t":2016.200,"v":2.8},{"t":2016.225,"v":-3.0},
{"t":2016.250,"v":2.6},{"t":2016.275,"v":-2.4},{"t":2016.300,"v":2.8},{"t":2016.325,"v":-2.4},{"t":2016.350,"v":3.0},{"t":2016.375,"v":-2.6},{"t":2016.400,"v":2.5},{"t":2016.425,"v":-2.8},{"t":2016.450,"v":3.0},{"t":2016.475,"v":-2.5},
{"t":2016.500,"v":2.6},{"t":2016.525,"v":-4.0},{"t":2016.550,"v":2.5},{"t":2016.575,"v":-2.2},{"t":2016.600,"v":2.2},{"t":2016.625,"v":-2.2},{"t":2016.650,"v":2.0},{"t":2016.675,"v":-2.4},{"t":2016.700,"v":2.0},{"t":2016.725,"v":-1.8},
{"t":2016.750,"v":2.5},{"t":2016.775,"v":-2.0},{"t":2016.800,"v":2.2},{"t":2016.825,"v":-2.0},{"t":2016.850,"v":4.5},{"t":2016.875,"v":-3.5},{"t":2016.900,"v":3.0},{"t":2016.925,"v":-2.5},{"t":2016.950,"v":3.0},{"t":2016.975,"v":-2.4},
{"t":2017.000,"v":2.5},{"t":2017.025,"v":-2.5},{"t":2017.050,"v":2.2},{"t":2017.075,"v":-2.0},{"t":2017.100,"v":2.0},{"t":2017.125,"v":-2.0},{"t":2017.150,"v":2.0},{"t":2017.175,"v":-2.4},{"t":2017.200,"v":2.4},{"t":2017.225,"v":-2.4},
{"t":2017.250,"v":1.8},{"t":2017.275,"v":-1.6},{"t":2017.300,"v":1.8},{"t":2017.325,"v":-1.6},{"t":2017.350,"v":1.8},{"t":2017.375,"v":-2.0},{"t":2017.400,"v":1.6},{"t":2017.425,"v":-1.8},{"t":2017.450,"v":1.6},{"t":2017.475,"v":-1.5},
{"t":2017.500,"v":1.8},{"t":2017.525,"v":-1.5},{"t":2017.550,"v":1.8},{"t":2017.575,"v":-1.7},{"t":2017.600,"v":1.6},{"t":2017.625,"v":-1.6},{"t":2017.650,"v":1.6},{"t":2017.675,"v":-1.5},{"t":2017.700,"v":1.8},{"t":2017.725,"v":-1.5},
{"t":2017.750,"v":1.8},{"t":2017.775,"v":-2.0},{"t":2017.800,"v":2.0},{"t":2017.825,"v":-2.2},{"t":2017.850,"v":2.2},{"t":2017.875,"v":-2.0},{"t":2017.900,"v":2.7},{"t":2017.925,"v":-2.7},{"t":2017.950,"v":2.5},{"t":2017.975,"v":-2.2},
{"t":2018.000,"v":2.5},{"t":2018.025,"v":-2.5},{"t":2018.050,"v":3.0},{"t":2018.075,"v":-3.0},{"t":2018.100,"v":5.8},{"t":2018.125,"v":-3.5},{"t":2018.150,"v":3.0},{"t":2018.175,"v":-5.0},{"t":2018.200,"v":4.0},{"t":2018.225,"v":-3.0},
{"t":2018.250,"v":3.5},{"t":2018.275,"v":-3.5},{"t":2018.300,"v":3.0},{"t":2018.325,"v":-2.6},{"t":2018.350,"v":2.5},{"t":2018.375,"v":-2.5},{"t":2018.400,"v":2.2},{"t":2018.425,"v":-2.4},{"t":2018.450,"v":2.0},{"t":2018.475,"v":-2.0},
{"t":2018.500,"v":2.5},{"t":2018.525,"v":-2.2},{"t":2018.550,"v":2.2},{"t":2018.575,"v":-2.2},{"t":2018.600,"v":2.0},{"t":2018.625,"v":-2.0},{"t":2018.650,"v":2.4},{"t":2018.675,"v":-2.4},{"t":2018.700,"v":2.6},{"t":2018.725,"v":-2.0},
{"t":2018.750,"v":2.2},{"t":2018.775,"v":-2.0},{"t":2018.800,"v":2.4},{"t":2018.825,"v":-2.4},{"t":2018.850,"v":2.8},{"t":2018.875,"v":-3.0},{"t":2018.900,"v":5.0},{"t":2018.925,"v":-2.5},{"t":2018.950,"v":2.8},{"t":2018.975,"v":-3.5},
{"t":2019.000,"v":3.0},{"t":2019.025,"v":-4.8},{"t":2019.050,"v":2.8},{"t":2019.075,"v":-2.5},{"t":2019.100,"v":2.5},{"t":2019.125,"v":-2.5},{"t":2019.150,"v":2.4},{"t":2019.175,"v":-2.2},{"t":2019.200,"v":2.2},{"t":2019.225,"v":-2.2},
{"t":2019.250,"v":2.8},{"t":2019.275,"v":-2.4},{"t":2019.300,"v":2.5},{"t":2019.325,"v":-2.5},{"t":2019.350,"v":2.2},{"t":2019.375,"v":-2.0},{"t":2019.400,"v":2.2},{"t":2019.425,"v":-2.0},{"t":2019.450,"v":2.5},{"t":2019.475,"v":-2.4},
{"t":2019.500,"v":2.3},{"t":2019.525,"v":-2.3},{"t":2019.550,"v":2.6},{"t":2019.575,"v":-2.0},{"t":2019.600,"v":2.2},{"t":2019.625,"v":-2.0},{"t":2019.650,"v":4.4},{"t":2019.675,"v":-2.8},{"t":2019.700,"v":2.2},{"t":2019.725,"v":-2.2},
{"t":2019.750,"v":2.2},{"t":2019.775,"v":-2.0},{"t":2019.800,"v":2.0},{"t":2019.825,"v":-1.8},{"t":2019.850,"v":2.0},{"t":2019.875,"v":-1.8},{"t":2019.900,"v":1.6},{"t":2019.925,"v":-1.7},{"t":2019.950,"v":1.5},{"t":2019.975,"v":-1.5},
{"t":2020.000,"v":1.8},{"t":2020.025,"v":-1.6},{"t":2020.050,"v":1.6},{"t":2020.075,"v":-1.5},{"t":2020.100,"v":2.0},{"t":2020.125,"v":-2.5},{"t":2020.150,"v":4.0},{"t":2020.175,"v":-17.3},{"t":2020.200,"v":15.2},{"t":2020.225,"v":-12.0},
{"t":2020.250,"v":8.0},{"t":2020.275,"v":-7.1},{"t":2020.300,"v":6.0},{"t":2020.325,"v":-9.0},{"t":2020.350,"v":6.7},{"t":2020.375,"v":-5.0},{"t":2020.400,"v":4.5},{"t":2020.425,"v":-7.8},{"t":2020.450,"v":9.4},{"t":2020.475,"v":-4.0},
{"t":2020.500,"v":6.0},{"t":2020.525,"v":-4.0},{"t":2020.550,"v":5.0},{"t":2020.575,"v":-3.5},{"t":2020.600,"v":3.0},{"t":2020.625,"v":-3.2},{"t":2020.650,"v":3.0},{"t":2020.675,"v":-3.0},{"t":2020.700,"v":2.8},{"t":2020.725,"v":-3.0},
{"t":2020.750,"v":2.5},{"t":2020.775,"v":-2.5},{"t":2020.800,"v":3.0},{"t":2020.825,"v":-2.8},{"t":2020.850,"v":2.5},{"t":2020.875,"v":-12.1},{"t":2020.900,"v":2.8},{"t":2020.925,"v":-3.0},{"t":2020.950,"v":2.6},{"t":2020.975,"v":-3.0},
{"t":2021.000,"v":2.6},{"t":2021.025,"v":-5.7},{"t":2021.050,"v":2.5},{"t":2021.075,"v":-2.3},{"t":2021.100,"v":2.5},{"t":2021.125,"v":-2.4},{"t":2021.150,"v":2.5},{"t":2021.175,"v":-2.0},{"t":2021.200,"v":2.2},{"t":2021.225,"v":-2.2},
{"t":2021.250,"v":2.2},{"t":2021.275,"v":-2.4},{"t":2021.300,"v":2.6},{"t":2021.325,"v":-2.2},{"t":2021.350,"v":2.6},{"t":2021.375,"v":-2.0},{"t":2021.400,"v":2.4},{"t":2021.425,"v":-2.2},{"t":2021.450,"v":3.0},{"t":2021.475,"v":-2.4},
{"t":2021.500,"v":2.2},{"t":2021.525,"v":-2.2},{"t":2021.550,"v":2.4},{"t":2021.575,"v":-2.0},{"t":2021.600,"v":2.5},{"t":2021.625,"v":-2.5},{"t":2021.650,"v":2.8},{"t":2021.675,"v":-2.6},{"t":2021.700,"v":2.8},{"t":2021.725,"v":-2.2},
{"t":2021.750,"v":3.4},{"t":2021.775,"v":-2.4},{"t":2021.800,"v":3.4},{"t":2021.825,"v":-2.6},{"t":2021.850,"v":2.5},{"t":2021.875,"v":-2.2},{"t":2021.900,"v":2.4},{"t":2021.925,"v":-2.2},{"t":2021.950,"v":3.0},{"t":2021.975,"v":-2.5},
{"t":2022.000,"v":-1.5}
]
},
"vconcat": [
{
  "width": 777, "height": 221,
  "data": {"name": "mes"},
  "transform": [{"fold": ["BAC","BK","C","GS","JPM","MS","STT","WFC"], "as": ["bank","mes"]}],
  "layer": [
    {
      "mark": {"type": "line", "strokeWidth": 1.4, "clip": true},
      "encoding": {
        "x": {"field": "t", "type": "quantitative", "scale": {"domain": [2004.342, 2022.612], "nice": false, "zero": false},
              "axis": {"orient": "top", "ticks": false, "labels": false, "title": null}},
        "y": {"field": "mes", "type": "quantitative", "scale": {"domain": [-3.3, 125.2], "nice": false, "zero": false},
              "axis": {"title": "MES", "values": [0,20,40,60,80,100,120], "labelExpr": "datum.value == 120 ? '' : datum.label",
                       "labelAngle": -90, "labelAlign": "center", "labelBaseline": "bottom", "labelPadding": 8, "tickSize": 8,
                       "titlePadding": 16, "minExtent": 34, "maxExtent": 34}},
        "color": {"field": "bank", "type": "nominal",
                  "scale": {"domain": ["BAC","BK","C","GS","JPM","MS","STT","WFC"],
                            "range": ["#E41A1C","#FF7F00","#F781BF","#A65628","#4DAF4A","#FFFF33","#377EB8","#984EA3"]},
                  "legend": {"orient": "none", "legendX": 0, "legendY": 0, "title": null, "strokeColor": "black", "fillColor": "white",
                             "padding": 9, "symbolType": "M-2.7,0H2.7", "symbolSize": 100, "symbolStrokeWidth": 2,
                             "symbolOffset": 12.5, "labelOffset": 19, "labelFontSize": 15, "rowPadding": 2.2}}
      }
    },
    {
      "mark": {"type": "point", "opacity": 0},
      "encoding": {
        "x": {"field": "t", "type": "quantitative", "axis": {"orient": "bottom", "ticks": false, "labels": false, "title": null}}
      }
    }
  ],
  "resolve": {"axis": {"x": "independent"}}
},
{
  "width": 777, "height": 220,
  "data": {"name": "loss"},
  "mark": {"type": "line", "strokeWidth": 1, "color": "black", "clip": true},
  "encoding": {
    "x": {"field": "t", "type": "quantitative", "scale": {"domain": [2004.342, 2022.612], "nice": false, "zero": false},
          "axis": {"orient": "bottom", "values": [2005, 2010, 2015, 2020], "format": "d", "tickSize": 8, "labelPadding": 6, "title": null}},
    "y": {"field": "v", "type": "quantitative", "scale": {"domain": [-27, 25.6], "nice": false, "zero": false},
          "axis": {"title": "Value−Weighted Losses", "values": [-20,-10,0,10,20], "labelAngle": -90, "labelAlign": "center", "labelBaseline": "bottom",
                   "labelPadding": 8, "tickSize": 8, "titlePadding": 16, "minExtent": 34, "maxExtent": 34}}
  }
}
]
}
